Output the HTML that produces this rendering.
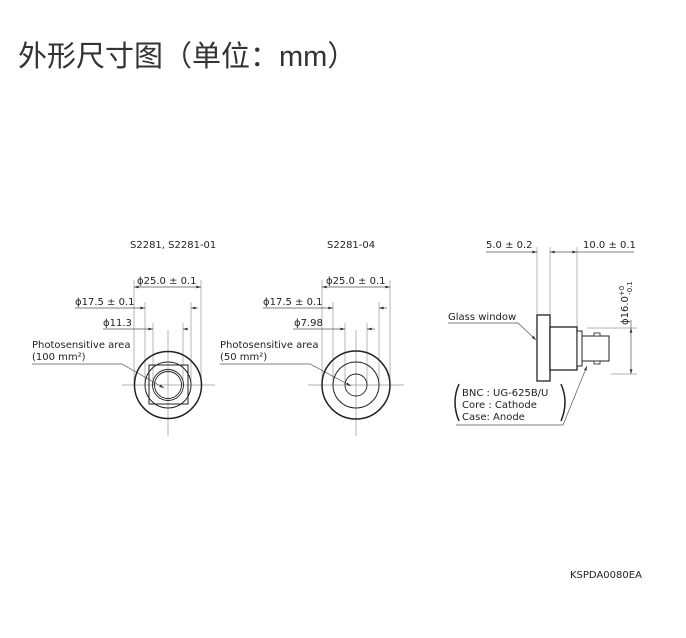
<!DOCTYPE html>
<html><head><meta charset="utf-8"><style>
body{margin:0;background:#fff;width:686px;height:638px;overflow:hidden}
svg{display:block}
.t{font-family:"DejaVu Sans","Liberation Sans",sans-serif;font-size:10px;fill:#222}
.k{stroke:#222;fill:none;stroke-width:1.5}
.g{stroke:#999;fill:none;stroke-width:0.7}
.d{stroke:#555;fill:none;stroke-width:0.7}
</style></head><body>
<svg width="686" height="638" viewBox="0 0 686 638">
<defs><marker id="a" viewBox="0 0 10 6" refX="10" refY="3" markerWidth="7" markerHeight="4" orient="auto-start-reverse"><path d="M0,0L10,3L0,6z" fill="#333"/></marker></defs>
<text x="18" y="66" style="font-family:'Liberation Sans','Noto Sans CJK SC',sans-serif;font-size:29px;fill:#333">外形尺寸图（单位：mm）</text>

<!-- left front view -->
<text class="t" x="130" y="248">S2281, S2281-01</text>
<g class="g">
<line x1="134" y1="280" x2="134" y2="385"/><line x1="201" y1="280" x2="201" y2="385"/>
<line x1="145" y1="302" x2="145" y2="385"/><line x1="191" y1="302" x2="191" y2="385"/>
<line x1="153" y1="323" x2="153" y2="385"/><line x1="183" y1="323" x2="183" y2="385"/>
<line x1="122" y1="385" x2="215" y2="385"/><line x1="168" y1="330" x2="168" y2="436"/>
</g>
<g class="d">
<line x1="134" y1="287" x2="201" y2="287" marker-start="url(#a)" marker-end="url(#a)"/>
<line x1="75" y1="308" x2="145" y2="308" marker-end="url(#a)"/><line x1="191" y1="308" x2="198" y2="308" marker-start="url(#a)"/>
<line x1="103" y1="329" x2="153" y2="329" marker-end="url(#a)"/><line x1="183" y1="329" x2="187" y2="329" marker-start="url(#a)"/>
<polyline points="32,364 122,364 164,388" marker-end="url(#a)"/>
</g>
<text class="t" x="137" y="284">ϕ25.0 ± 0.1</text>
<text class="t" x="75" y="305">ϕ17.5 ± 0.1</text>
<text class="t" x="103" y="326">ϕ11.3</text>
<text class="t" x="32" y="348">Photosensitive area</text>
<text class="t" x="32" y="360">(100 mm²)</text>
<circle class="k" cx="168" cy="385" r="33.5"/>
<circle cx="168" cy="385" r="23" fill="none" stroke="#222" stroke-width="1"/>
<rect x="149" y="365" width="39" height="39" fill="none" stroke="#222" stroke-width="1"/>
<circle cx="168" cy="385" r="15.5" fill="none" stroke="#222" stroke-width="0.9"/>
<circle cx="168" cy="385" r="13.5" fill="none" stroke="#222" stroke-width="0.9"/>

<!-- middle front view -->
<text class="t" x="327" y="248">S2281-04</text>
<g class="g">
<line x1="322" y1="280" x2="322" y2="385"/><line x1="390" y1="280" x2="390" y2="385"/>
<line x1="333" y1="302" x2="333" y2="385"/><line x1="379" y1="302" x2="379" y2="385"/>
<line x1="345" y1="323" x2="345" y2="385"/><line x1="367" y1="323" x2="367" y2="385"/>
<line x1="308" y1="385" x2="404" y2="385"/><line x1="356" y1="330" x2="356" y2="436"/>
</g>
<g class="d">
<line x1="322" y1="287" x2="390" y2="287" marker-start="url(#a)" marker-end="url(#a)"/>
<line x1="263" y1="308" x2="333" y2="308" marker-end="url(#a)"/><line x1="379" y1="308" x2="387" y2="308" marker-start="url(#a)"/>
<line x1="293" y1="329" x2="345" y2="329" marker-end="url(#a)"/><line x1="367" y1="329" x2="375" y2="329" marker-start="url(#a)"/>
<polyline points="220,364 310,364 351,386" marker-end="url(#a)"/>
</g>
<text class="t" x="326" y="284">ϕ25.0 ± 0.1</text>
<text class="t" x="263" y="305">ϕ17.5 ± 0.1</text>
<text class="t" x="294" y="326">ϕ7.98</text>
<text class="t" x="220" y="348">Photosensitive area</text>
<text class="t" x="220" y="360">(50 mm²)</text>
<circle class="k" cx="356" cy="385" r="34"/>
<circle cx="356" cy="385" r="23" fill="none" stroke="#222" stroke-width="1"/>
<circle cx="356" cy="385" r="11" fill="none" stroke="#222" stroke-width="0.9"/>

<!-- side view -->
<g class="g">
<line x1="537" y1="247" x2="537" y2="315"/><line x1="550" y1="247" x2="550" y2="315"/>
<line x1="577" y1="247" x2="577" y2="327"/>
<line x1="587" y1="328" x2="637" y2="328"/><line x1="611" y1="374" x2="637" y2="374"/>
</g>
<g class="d">
<line x1="486" y1="252" x2="537" y2="252" marker-end="url(#a)"/>
<line x1="550" y1="252" x2="577" y2="252" marker-start="url(#a)" marker-end="url(#a)"/>
<line x1="577" y1="252" x2="634" y2="252"/>
<line x1="631" y1="328" x2="631" y2="374" marker-start="url(#a)" marker-end="url(#a)"/>
<line x1="631" y1="328" x2="631" y2="320"/>
<polyline points="448,323 518,323 536,340" marker-end="url(#a)"/>
<polyline points="456,425 563,425 587,366" marker-end="url(#a)"/>
</g>
<text class="t" x="486" y="248">5.0 ± 0.2</text>
<text class="t" x="583" y="248">10.0 ± 0.1</text>
<text class="t" transform="translate(628,325) rotate(-90)">ϕ16.0<tspan font-size="7" dy="-4">+0</tspan><tspan font-size="7" dx="-9" dy="8">-0.1</tspan></text>
<text class="t" x="448" y="320">Glass window</text>
<rect x="537" y="315" width="13" height="66" fill="#fff" stroke="#222" stroke-width="1.3"/>
<rect x="550" y="327" width="27" height="43" fill="#fff" stroke="#222" stroke-width="1.3"/>
<rect x="577" y="331" width="5" height="35" fill="#fff" stroke="#222" stroke-width="1"/>
<rect x="582" y="336" width="27" height="25" fill="#fff" stroke="#222" stroke-width="1"/>
<rect x="594" y="333" width="6" height="3" fill="#fff" stroke="#222" stroke-width="0.8"/>
<rect x="594" y="361" width="6" height="3" fill="#fff" stroke="#222" stroke-width="0.8"/>
<path d="M459,384 Q451,402 459,421" class="k"/>
<path d="M561,384 Q569,402 561,421" class="k"/>
<text class="t" x="462" y="396">BNC : UG-625B/U</text>
<text class="t" x="462" y="408">Core : Cathode</text>
<text class="t" x="462" y="420">Case: Anode</text>

<text class="t" x="570" y="578">KSPDA0080EA</text>
</svg>
</body></html>
